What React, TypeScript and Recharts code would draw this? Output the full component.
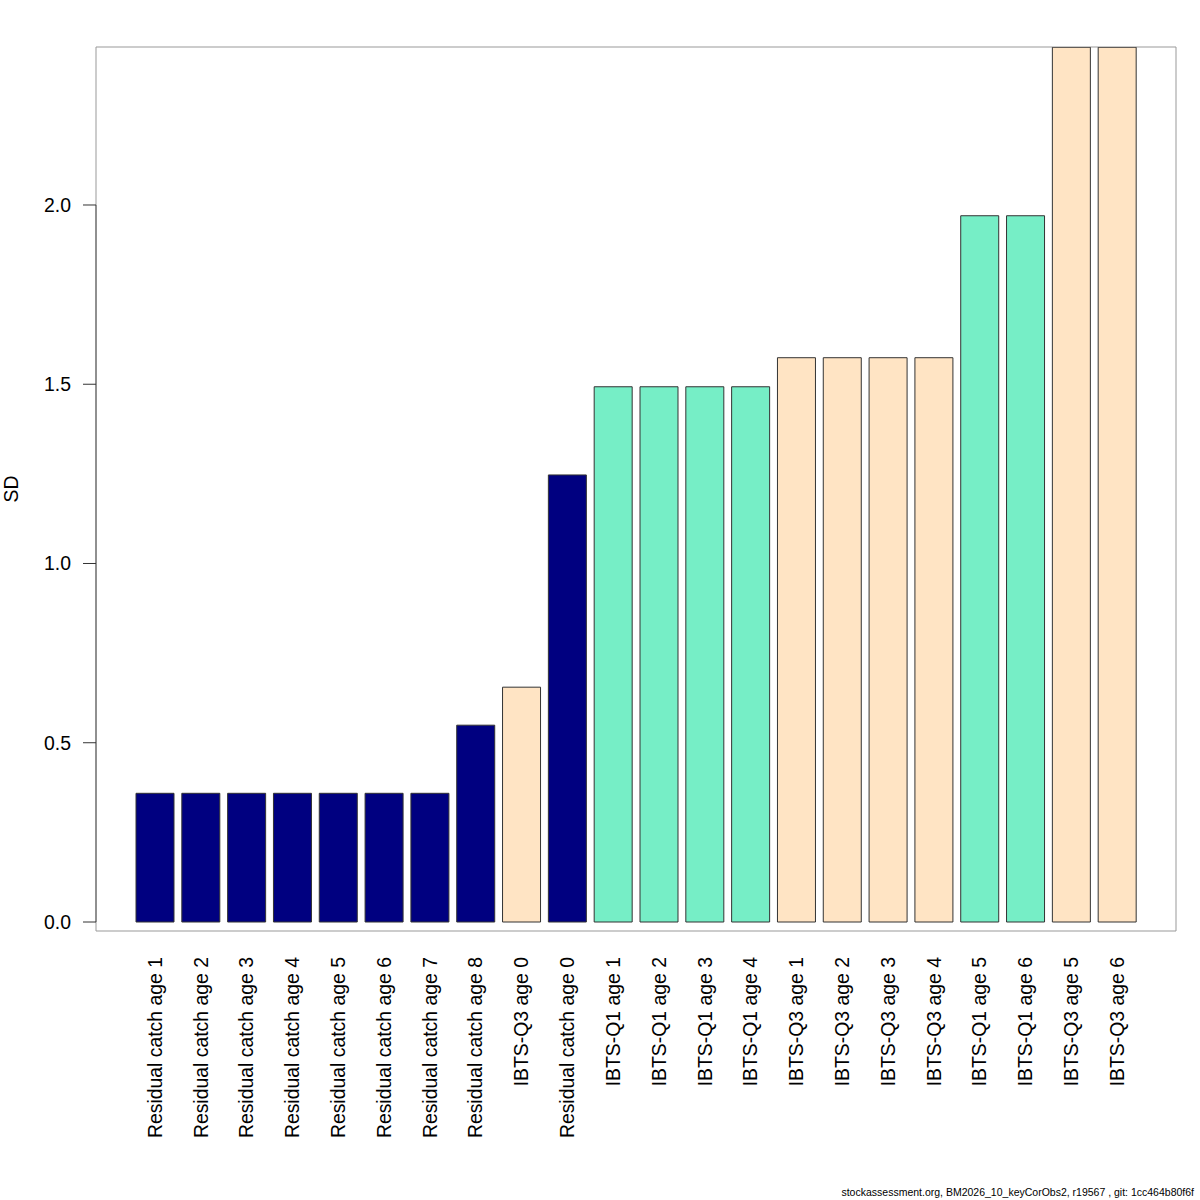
import React from 'react';
import { BarChart, Bar, Cell, XAxis, YAxis, CartesianGrid, ReferenceArea } from 'recharts';

const labels = [
  'Residual catch age 1', 'Residual catch age 2', 'Residual catch age 3', 'Residual catch age 4',
  'Residual catch age 5', 'Residual catch age 6', 'Residual catch age 7', 'Residual catch age 8',
  'IBTS-Q3 age 0', 'Residual catch age 0',
  'IBTS-Q1 age 1', 'IBTS-Q1 age 2', 'IBTS-Q1 age 3', 'IBTS-Q1 age 4',
  'IBTS-Q3 age 1', 'IBTS-Q3 age 2', 'IBTS-Q3 age 3', 'IBTS-Q3 age 4',
  'IBTS-Q1 age 5', 'IBTS-Q1 age 6', 'IBTS-Q3 age 5', 'IBTS-Q3 age 6',
];

const sdValues = [
  0.359, 0.359, 0.359, 0.359, 0.359, 0.359, 0.359, 0.549,
  0.655, 1.247,
  1.493, 1.493, 1.493, 1.493,
  1.574, 1.574, 1.574, 1.574,
  1.970, 1.970, 2.44, 2.44,
];

const yTicks = [0, 0.5, 1.0, 1.5, 2.0];
const yDomain = [-0.0251, 2.4407];

const fleetColors: Record<string, string> = {
  'Residual catch': '#000080',
  'IBTS-Q1': '#76EEC6',
  'IBTS-Q3': '#FFE4C4',
};

const footer = 'stockassessment.org, BM2026_10_keyCorObs2, r19567 , git: 1cc464b80f6f';

const chartData = labels.map((name, i) => ({ name, sd: sdValues[i] }));

const FONT = '"Liberation Sans", Arial, Helvetica, sans-serif';
const PAD = 36;
const BOX = '#999999';

const XTick = (props: any) => {
  const { x, y, payload } = props;
  return (
    <text
      x={x}
      y={y}
      transform={`rotate(-90, ${x}, ${y})`}
      textAnchor="end"
      dy="0.35em"
      fill="#000"
      fontSize={19.4}
      fontFamily={FONT}
    >
      {payload.value}
    </text>
  );
};

export default function App() {
  return (
    <div style={{ position: 'absolute', left: 0, top: 0, width: 1200, height: 1200, background: '#fff', fontFamily: FONT }}>
      <BarChart
        width={1200}
        height={1200}
        data={chartData}
        margin={{ top: 47, right: 24, bottom: 0, left: 0 }}
      >
        {/* plot box, as R's box() */}
        <CartesianGrid
          stroke={BOX}
          strokeWidth={1}
          horizontalCoordinatesGenerator={({ offset }: any) => [offset.top, offset.top + offset.height]}
          verticalCoordinatesGenerator={({ offset }: any) => [offset.left, offset.left + offset.width]}
        />
        <XAxis
          dataKey="name"
          interval={0}
          height={269}
          padding={{ left: PAD, right: PAD }}
          axisLine={false}
          tickLine={false}
          tick={<XTick />}
          tickSize={0}
          tickMargin={26}
        />
        <YAxis
          type="number"
          domain={yDomain}
          ticks={yTicks}
          allowDataOverflow
          width={96}
          axisLine={false}
          tickLine={{ stroke: '#333' }}
          tickSize={13}
          tickMargin={12}
          tickFormatter={(v: number) => v.toFixed(1)}
          tick={{ fill: '#000', fontSize: 19.4, fontFamily: FONT }}
          label={{
            content: ({ viewBox }: any) => {
              const cx = viewBox.x + 18;
              const cy = viewBox.y + viewBox.height / 2;
              return (
                <text x={cx} y={cy} transform={`rotate(-90, ${cx}, ${cy})`} textAnchor="middle" fontSize={19.4} fontFamily={FONT} fill="#000">
                  SD
                </text>
              );
            },
          }}
        />
        {/* y axis line spanning the tick range */}
        <ReferenceArea
          y1={0}
          y2={2}
          ifOverflow="visible"
          shape={(p: any) => (
            <line x1={p.x - PAD} x2={p.x - PAD} y1={p.y} y2={p.y + p.height} stroke="#555" strokeWidth={1} />
          )}
        />
        <Bar dataKey="sd" barSize={38} stroke="#333" strokeWidth={1} isAnimationActive={false}>
          {chartData.map((d, i) => (
            <Cell key={i} fill={fleetColors[d.name.replace(/ age \d+$/, '')]} />
          ))}
        </Bar>
      </BarChart>
      <div style={{ position: 'absolute', right: 6, top: 1186, fontSize: 10.5, fontFamily: FONT, color: '#000', whiteSpace: 'nowrap' }}>
        {footer}
      </div>
    </div>
  );
}
